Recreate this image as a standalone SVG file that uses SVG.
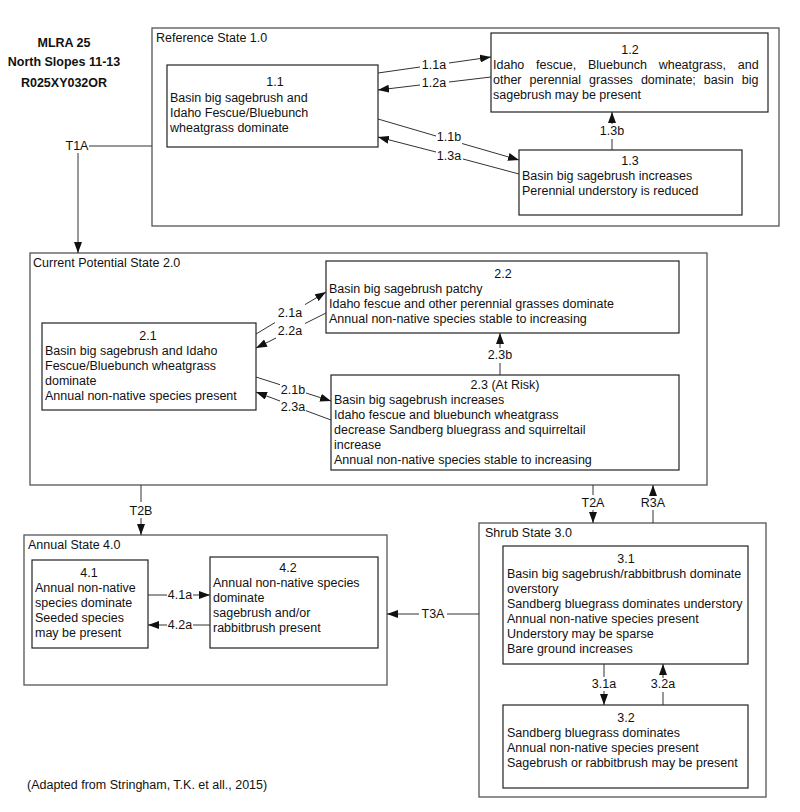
<svg xmlns="http://www.w3.org/2000/svg" width="800" height="812" viewBox="0 0 800 812">
<style>
text{font-family:"Liberation Sans",Arial,sans-serif;font-size:12.5px;fill:#111}
.t{font-weight:bold}
.c{text-anchor:middle}
.state{fill:none;stroke:#555;stroke-width:1.3}
.box{fill:#fff;stroke:#222;stroke-width:1.2}
.ln{fill:none;stroke:#333;stroke-width:1}
.ar{fill:none;stroke:#333;stroke-width:1;marker-end:url(#ah)}
</style>
<defs>
<marker id="ah" markerUnits="userSpaceOnUse" markerWidth="12" markerHeight="8" refX="11" refY="4" orient="auto">
<path d="M0,0 L11,4 L0,8 z" fill="#111"/>
</marker>
</defs>
<rect width="800" height="812" fill="#fff"/>
<g id="title">
<text class="t c" x="64" y="47">MLRA 25</text>
<text class="t c" x="64" y="66">North Slopes 11-13</text>
<text class="t c" x="64" y="87">R025XY032OR</text>
</g>
<g id="state1">
<rect class="state" x="152" y="28" width="627" height="198"/>
<text x="156" y="42">Reference State 1.0</text>
</g>
<g id="n1.1">
<rect class="box" x="167" y="65" width="211" height="82"/>
<text class="c" x="275" y="86">1.1</text>
<text x="170" y="102">Basin big sagebrush and</text>
<text x="170" y="117">Idaho Fescue/Bluebunch</text>
<text x="170" y="132">wheatgrass dominate</text>
</g>
<g id="n1.2">
<rect class="box" x="491" y="33" width="277" height="79"/>
<text class="c" x="630" y="54">1.2</text>
<text x="493" y="69" word-spacing="8.2">Idaho fescue, Bluebunch wheatgrass, and</text>
<text x="493" y="84" word-spacing="4.6">other perennial grasses dominate; basin big</text>
<text x="493" y="99">sagebrush may be present</text>
</g>
<g id="n1.3">
<rect class="box" x="519" y="150" width="223" height="65"/>
<text class="c" x="630" y="165">1.3</text>
<text x="522" y="180">Basin big sagebrush increases</text>
<text x="522" y="195">Perennial understory is reduced</text>
</g>
<g id="state2">
<rect class="state" x="30" y="253" width="677" height="232"/>
<text x="33" y="267">Current Potential State 2.0</text>
</g>
<g id="n2.1">
<rect class="box" x="42" y="323" width="214" height="87"/>
<text class="c" x="148" y="340">2.1</text>
<text x="45" y="355">Basin big sagebrush and Idaho</text>
<text x="45" y="370">Fescue/Bluebunch wheatgrass</text>
<text x="45" y="385">dominate</text>
<text x="45" y="400">Annual non-native species present</text>
</g>
<g id="n2.2">
<rect class="box" x="326" y="261" width="353" height="72"/>
<text class="c" x="503" y="278">2.2</text>
<text x="329" y="293">Basin big sagebrush patchy</text>
<text x="329" y="308">Idaho fescue and other perennial grasses dominate</text>
<text x="329" y="323">Annual non-native species stable to increasing</text>
</g>
<g id="n2.3">
<rect class="box" x="331" y="375" width="348" height="95"/>
<text class="c" x="505" y="389">2.3 (At Risk)</text>
<text x="334" y="404">Basin big sagebrush increases</text>
<text x="334" y="419">Idaho fescue and bluebunch wheatgrass</text>
<text x="334" y="434">decrease Sandberg bluegrass and squirreltail</text>
<text x="334" y="449">increase</text>
<text x="334" y="464">Annual non-native species stable to increasing</text>
</g>
<g id="state4">
<rect class="state" x="24" y="535" width="363" height="150"/>
<text x="28" y="549">Annual State 4.0</text>
</g>
<g id="n4.1">
<rect class="box" x="32" y="560" width="116" height="88"/>
<text class="c" x="89" y="577">4.1</text>
<text x="35" y="592">Annual non-native</text>
<text x="35" y="607">species dominate</text>
<text x="35" y="622">Seeded species</text>
<text x="35" y="637">may be present</text>
</g>
<g id="n4.2">
<rect class="box" x="210" y="557" width="168" height="91"/>
<text class="c" x="288" y="572">4.2</text>
<text x="213" y="587">Annual non-native species</text>
<text x="213" y="602">dominate</text>
<text x="213" y="617">sagebrush and/or</text>
<text x="213" y="632">rabbitbrush present</text>
</g>
<g id="state3">
<rect class="state" x="479" y="523" width="287" height="274"/>
<text x="485" y="537">Shrub State 3.0</text>
</g>
<g id="n3.1">
<rect class="box" x="503" y="546" width="245" height="118"/>
<text class="c" x="626" y="563">3.1</text>
<text x="507" y="578">Basin big sagebrush/rabbitbrush dominate</text>
<text x="507" y="593">overstory</text>
<text x="507" y="608">Sandberg bluegrass dominates understory</text>
<text x="507" y="623">Annual non-native species present</text>
<text x="507" y="638">Understory may be sparse</text>
<text x="507" y="653">Bare ground increases</text>
</g>
<g id="n3.2">
<rect class="box" x="503" y="705" width="245" height="83"/>
<text class="c" x="626" y="722">3.2</text>
<text x="507" y="737">Sandberg bluegrass dominates</text>
<text x="507" y="752">Annual non-native species present</text>
<text x="507" y="767">Sagebrush or rabbitbrush may be present</text>
</g>
<g id="connectors">
<line class="ln" x1="378" y1="73" x2="420" y2="67"/>
<line class="ar" x1="449" y1="63" x2="491" y2="57"/>
<text class="c" x="434" y="69">1.1a</text>
<line class="ln" x1="491" y1="77" x2="449" y2="82"/>
<line class="ar" x1="420" y1="85" x2="378" y2="90"/>
<text class="c" x="434" y="87">1.2a</text>
<line class="ln" x1="378" y1="119" x2="436" y2="136"/>
<line class="ar" x1="462" y1="143.5" x2="519" y2="160"/>
<text class="c" x="449" y="141">1.1b</text>
<line class="ln" x1="519" y1="174" x2="463" y2="159"/>
<line class="ar" x1="436" y1="152" x2="378" y2="137"/>
<text class="c" x="449" y="160">1.3a</text>
<line class="ln" x1="612" y1="150" x2="612" y2="139"/>
<line class="ar" x1="612" y1="124" x2="612" y2="112"/>
<text class="c" x="612" y="135">1.3b</text>
<line class="ln" x1="152" y1="146" x2="89" y2="146"/>
<text class="c" x="77" y="150">T1A</text>
<line class="ar" x1="78" y1="153" x2="78" y2="253"/>
<line class="ln" x1="256" y1="334" x2="275" y2="322.6"/>
<line class="ar" x1="305" y1="304.6" x2="326" y2="292"/>
<text class="c" x="290" y="317">2.1a</text>
<line class="ln" x1="326" y1="313" x2="305" y2="323.5"/>
<line class="ar" x1="276" y1="338" x2="256" y2="348"/>
<text class="c" x="290" y="335">2.2a</text>
<line class="ln" x1="256" y1="377" x2="280" y2="384.7"/>
<line class="ar" x1="306" y1="393" x2="331" y2="401"/>
<text class="c" x="293" y="394">2.1b</text>
<line class="ln" x1="331" y1="420" x2="306" y2="410.7"/>
<line class="ar" x1="280" y1="401" x2="256" y2="392"/>
<text class="c" x="293" y="411">2.3a</text>
<line class="ln" x1="500" y1="375" x2="500" y2="363"/>
<line class="ar" x1="500" y1="348" x2="500" y2="333"/>
<text class="c" x="500" y="359">2.3b</text>
<line class="ln" x1="141" y1="485" x2="141" y2="502"/>
<line class="ar" x1="141" y1="518" x2="141" y2="535"/>
<text class="c" x="141" y="515">T2B</text>
<line class="ln" x1="593" y1="485" x2="593" y2="495"/>
<line class="ar" x1="593" y1="510" x2="593" y2="523"/>
<text class="c" x="593" y="507">T2A</text>
<line class="ln" x1="653" y1="523" x2="653" y2="510"/>
<line class="ar" x1="653" y1="496" x2="653" y2="485"/>
<text class="c" x="653" y="507">R3A</text>
<line class="ln" x1="479" y1="614" x2="447" y2="614"/>
<line class="ar" x1="419" y1="614" x2="387" y2="614"/>
<text class="c" x="433" y="618">T3A</text>
<line class="ln" x1="604" y1="664" x2="604" y2="677"/>
<line class="ar" x1="604" y1="691" x2="604" y2="705"/>
<text class="c" x="604" y="688">3.1a</text>
<line class="ln" x1="663" y1="705" x2="663" y2="692"/>
<line class="ar" x1="663" y1="678" x2="663" y2="664"/>
<text class="c" x="663" y="688">3.2a</text>
<line class="ln" x1="148" y1="595" x2="167" y2="595"/>
<line class="ar" x1="193" y1="595" x2="210" y2="595"/>
<text class="c" x="180" y="599">4.1a</text>
<line class="ln" x1="210" y1="625" x2="193" y2="625"/>
<line class="ar" x1="167" y1="625" x2="148" y2="625"/>
<text class="c" x="180" y="629">4.2a</text>
</g>
<g id="footer">
<text x="27" y="789">(Adapted from Stringham, T.K. et all., 2015)</text>
</g>
</svg>
